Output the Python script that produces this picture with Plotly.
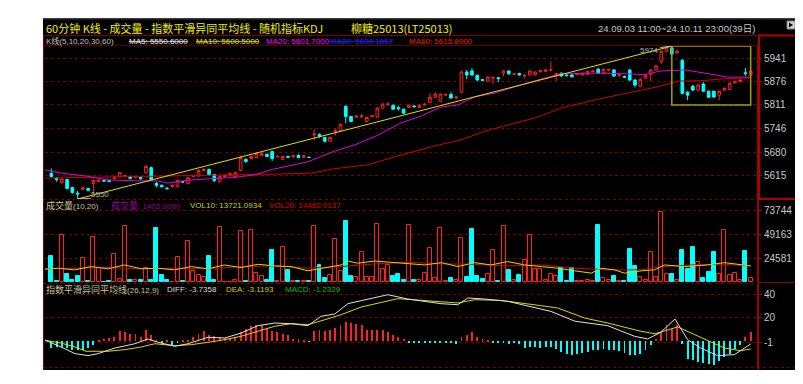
import plotly.graph_objects as go

W, H = 803, 384

# ---------------- data ----------------
opens = [5621,5608,5595,5604,5582,5566,5577,5579,5593,5599,
         5601,5601,5607,5612,5613,5612,5610,5610,5623,5637,
         5593,5588,5580,5584,5584,5598,5593,5612,5614,5629,
         5632,5618,5598,5612,5616,5612,5629,5660,5662,5665,
         5671,5674,5682,5667,5660,5668,5667,5671,5666,5666,
         5728,5729,5721,5710,5737,5740,5807,5779,5777,5779,
         5765,5778,5777,5802,5812,5810,5803,5799,5804,5808,
         5804,5811,5818,5832,5821,5838,5840,5830,5846,5902,
         5905,5893,5881,5877,5885,5886,5899,5905,5896,5898,
         5892,5894,5894,5903,5904,5907,5895,5899,5894,5894,
         5895,5894,5896,5903,5910,5899,5907,5908,5893,5890,
         5908,5880,5863,5885,5896,5908,5930,5960,5969,5955,
         5935,5846,5863,5852,5869,5849,5849,5838,5852,5854,
         5872,5876,5900,5894]
highs = [5635,5610,5608,5606,5583,5572,5584,5582,5604,5604,
         5604,5602,5614,5625,5617,5614,5614,5611,5645,5640,
         5597,5590,5583,5590,5604,5600,5611,5617,5632,5635,
         5634,5619,5614,5618,5623,5626,5670,5662,5671,5679,
         5680,5676,5684,5671,5670,5670,5672,5674,5672,5667,
         5743,5732,5722,5723,5745,5760,5810,5780,5782,5785,
         5778,5783,5805,5816,5819,5812,5808,5801,5812,5810,
         5812,5815,5843,5846,5843,5842,5846,5835,5906,5908,
         5913,5895,5883,5890,5889,5888,5907,5907,5898,5900,
         5896,5907,5904,5908,5910,5932,5899,5901,5896,5896,
         5899,5901,5906,5907,5913,5912,5911,5910,5897,5892,
         5910,5882,5885,5895,5910,5921,5962,5972,5974,5963,
         5937,5849,5866,5868,5874,5851,5850,5851,5859,5873,
         5878,5882,5913,5907]
lows = [5610,5598,5593,5577,5565,5550,5575,5571,5565,5597,
        5597,5596,5604,5610,5612,5604,5608,5601,5620,5602,
        5582,5582,5575,5582,5582,5595,5590,5610,5612,5627,
        5615,5597,5596,5610,5614,5610,5627,5650,5660,5663,
        5669,5666,5655,5665,5658,5664,5665,5663,5664,5664,
        5713,5720,5707,5708,5725,5738,5760,5763,5775,5774,
        5763,5776,5775,5800,5808,5797,5795,5786,5802,5804,
        5802,5809,5816,5830,5819,5836,5828,5828,5843,5882,
        5891,5877,5877,5875,5869,5874,5891,5895,5894,5892,
        5885,5892,5892,5901,5902,5904,5877,5889,5890,5887,
        5893,5892,5894,5901,5897,5897,5905,5889,5888,5885,
        5877,5860,5860,5883,5877,5906,5925,5958,5950,5952,
        5840,5824,5849,5850,5847,5830,5830,5824,5850,5852,
        5870,5874,5891,5892]
closes = [5612,5604,5605,5579,5568,5564,5581,5574,5601,5602,
          5600,5599,5611,5623,5615,5607,5612,5607,5640,5604,
          5588,5584,5579,5588,5601,5597,5609,5615,5629,5632,
          5618,5601,5612,5616,5621,5623,5665,5654,5668,5676,
          5676,5668,5662,5668,5668,5666,5670,5665,5670,5665,
          5730,5724,5710,5721,5739,5757,5779,5765,5780,5780,
          5776,5781,5802,5813,5813,5799,5801,5788,5810,5806,
          5810,5813,5832,5841,5841,5840,5830,5833,5902,5894,
          5894,5880,5879,5888,5887,5884,5905,5897,5897,5894,
          5893,5905,5902,5906,5908,5908,5897,5891,5892,5889,
          5897,5899,5904,5905,5899,5910,5909,5891,5894,5888,
          5880,5866,5882,5893,5908,5919,5960,5969,5952,5960,
          5843,5838,5852,5866,5849,5832,5833,5849,5857,5871,
          5876,5880,5898,5905]
volumes = [27300,1300,49200,8200,2400,6100,24600,700,46800,15000,
           500,1300,29000,3100,57700,2400,2000,2400,14300,2400,
           56000,6800,2400,500,26300,1300,42300,11600,6800,4800,
           27300,2400,57000,500,500,2000,52900,1300,54300,9200,
           5800,2400,33100,800,36500,12000,1300,1300,1000,1500,
           57700,17800,4100,7500,45000,11600,63800,6500,4800,31400,
           5100,4800,60400,13300,17800,5800,8200,2400,59400,2400,
           2400,9200,35500,4100,56000,1300,4100,2400,45700,4800,
           54600,6500,3400,7800,33100,700,57700,12000,2400,6800,
           22900,48500,13700,13700,2400,8200,6500,15000,1300,14300,
           700,700,2400,700,59700,4100,2400,6500,700,700,
           33800,17100,4800,2400,31400,4800,72400,7800,8200,2400,
           33100,13700,36500,21200,4100,10200,31400,8200,54300,6800,
           9200,2400,32000,4100]
macd_bar = [-5.7,-5,-5,-6,-7.5,-7.5,-7.5,-6,-3,1,
            2,3,4,8.6,8,6.5,6.5,4,9.5,5,
            1,-1,0.5,-3,-1.5,1,1,3.7,6.5,8.6,
            5,4.5,3.7,2.8,2.8,3.7,8,10.8,13,14.3,
            13.7,10.8,8.6,8,6.5,5,2.3,1.7,0.8,-0.5,
            8.6,10,8.6,9.4,11.4,14.3,16.6,16,15,13.7,
            9.4,9.4,10,10,8,5.7,3.7,2.3,-1.5,-1.5,
            -1,-1.5,-1,-1,-0.8,-1.5,-1,-2.5,3.7,5.7,
            8,3.7,1.7,0.8,-1,-1.5,-1,-2,-1.5,-2.5,
            -5.7,-4.9,-4.9,-5.7,-4.9,-4.9,-6.3,-9.1,-10.6,-11.4,
            -10.6,-9.7,-9.1,-7.7,-7.7,-6.3,-7.7,-7.7,-8.6,-9.7,
            -11.4,-11.4,-10.6,-7.7,-3.4,2.3,8,13.7,10.8,13.7,
            -2,-15.4,-16.3,-17.7,-18.3,-19.1,-20,-17.1,-13.4,-10.6,
            -6.3,-3.4,3.7,8]

ma20_x = [-1.2,1.8,6.4,10.8,17.1,20.3,22.2,25.4,29.8,34.9,38.7,42,48.8,53.9,57.7,62.1,
          66.5,70.3,74.1,77.3,80.5,84.4,88.1,90.6,92.5,96.9,103.4,109.6,112.9,115.9,120.5,
          124.3,128.6,133]
ma20_v = [5631,5622,5614,5603,5600,5600,5594,5601,5606,5610,5617,5632,5653,5683,5700,5727,
          5761,5780,5805,5811,5833,5844,5861,5873,5880,5897,5899,5897,5895,5905,5908,
          5899,5888,5888]
ma60_x = [-1.2,10.8,29.8,43.1,49.4,53.9,60.2,66.5,72.9,77.9,82.4,86.8,90.6,92.5,96.9,
          103.4,109.6,115.9,119.1,123.5,128.6,133]
ma60_v = [5608,5611,5614,5619,5622,5634,5645,5672,5697,5714,5738,5755,5770,5777,5802,
          5825,5844,5863,5877,5878,5884,5886]

vol20_x = [-1.2,4.4,10.8,17.1,23.4,29.8,36.1,42.5,48.8,55.1,61.5,67.8,74.2,80.5,86.8,93.2,
           99.5,105.8,112.2,116,121.7,128,133]
vol20_v = [13700,14300,15000,13700,14300,13700,16000,16700,14300,16000,18800,20500,18800,
           18400,16700,17700,14300,12600,12600,16000,17700,18400,16700]
vol10_x = [-1.2,1.3,4.4,7.6,10.8,13.9,17.1,20.3,23.4,26.6,29.8,32.9,36.1,39.3,42.5,45.6,
           48.8,51.9,55.1,56.4,58.3,61.5,64.6,67.8,71,74.2,77.3,80.5,83.6,86.8,90,93.2,96.3,
           99.5,102.7,104.5,107.1,109,112.2,114.7,116.6,120.4,124.8,128,131.2,133]
vol10_v = [13300,14300,12600,16000,13700,17700,13700,14300,12600,16000,13700,17700,15000,
           18400,16700,16000,11600,14300,17700,21800,19500,21800,20500,19500,17700,20100,
           16000,20100,17700,21200,17700,16000,14300,11600,9200,14300,12600,9200,11600,
           12600,17700,16000,17700,20100,17700,16700]

dea_x = [-1.2,1.8,4.5,6.6,10.8,14,17.1,19.7,23.5,26.6,29.8,33,36.1,39.3,42.5,45.6,48.8,52,
         55.1,58.9,62.7,65.9,67.8,77.3,80.5,85.5,93.1,96.3,101.4,105.8,112.1,114.8,119.1,
         122.9,128,131.1,133]
dea_v = [0.9,-1.5,-4.9,-8.6,-8.6,-7.2,-4.9,-2.1,-3.8,-2.9,-0.9,1.4,4.3,8.6,12.9,15.1,14.2,
         18.5,22.8,29.4,33.5,36.6,36.0,32.9,35.7,35.1,30.6,28.6,20,15.7,8.6,6.5,12.3,4.8,
         -5.8,-8.1,-6.6]
diff_x = [-1.2,1.3,4.5,7,8.9,12.1,15.9,18.4,20.3,23.5,26,29.8,33,36.1,39.3,42.5,45.6,48.8,
          51.3,53.9,56.4,60.2,64,67.8,74.1,77.3,79.2,82.4,86.8,95,99.6,105.8,110.9,113.4,
          115.9,118.6,121,123.5,126.7,129.9,133]
diff_v = [0.9,-3.8,-10.6,-12.3,-10.6,-5.8,-2.1,2.0,-0.9,-4.3,-2.1,3.4,2.8,7.1,13.4,15.7,
          15.1,13.4,21.5,23.4,32.3,36.3,40,36.3,32.3,31.4,37.2,36.3,34.3,25.7,17.2,13.4,
          4.3,2.0,7.7,19.1,1.4,-5.8,-12.3,-11.5,-2.3]

trend_x = [5, 118]
trend_y = [5550, 5974]
box_x = [118, 133]
box_y = [5811, 5974]

price_ticks = [5615, 5680, 5746, 5811, 5876, 5941]
vol_ticks = [24581, 49163, 73744]
macd_ticks = [-1, 20, 40]

# ---------------- styling ----------------
RED = '#ff2020'
CYAN = '#00ffff'
GRID = '#7a0000'
AX = '#a00000'
SANS = 'Liberation Sans, Arial, Noto Sans CJK SC'
CJK = 'Noto Sans CJK SC, Liberation Sans'


def X(p):
    return p / W


def Y(p):
    return 1 - p / H


def cjk(t, size=9):
    return f'<span style="font-size:{size}px;font-family:Noto Sans CJK SC">{t}</span>'


idx = list(range(len(opens)))
up = [c >= o for o, c in zip(opens, closes)]

fig = go.Figure()

fig.add_trace(go.Candlestick(
    x=idx, open=opens, high=highs, low=lows, close=closes,
    increasing=dict(line=dict(color=RED, width=1), fillcolor='#000000'),
    decreasing=dict(line=dict(color=CYAN, width=1), fillcolor=CYAN),
    whiskerwidth=0, xaxis='x', yaxis='y', hoverinfo='skip'))
fig.add_trace(go.Scatter(x=ma60_x, y=ma60_v, mode='lines', line=dict(color='#d00000', width=1),
                         xaxis='x', yaxis='y', hoverinfo='skip'))
fig.add_trace(go.Scatter(x=ma20_x, y=ma20_v, mode='lines', line=dict(color='#e000e0', width=1),
                         xaxis='x', yaxis='y', hoverinfo='skip'))
fig.add_trace(go.Scatter(x=trend_x, y=trend_y, mode='lines', line=dict(color='#e0e000', width=1),
                         xaxis='x', yaxis='y', hoverinfo='skip'))

fig.add_trace(go.Bar(
    x=idx, y=volumes, width=0.76,
    marker=dict(color=['#000000' if u else CYAN for u in up],
                line=dict(color=[RED if u else CYAN for u in up], width=1)),
    xaxis='x2', yaxis='y2', hoverinfo='skip'))
fig.add_trace(go.Scatter(x=vol20_x, y=vol20_v, mode='lines', line=dict(color='#e00000', width=1),
                         xaxis='x2', yaxis='y2', hoverinfo='skip'))
fig.add_trace(go.Scatter(x=vol10_x, y=vol10_v, mode='lines', line=dict(color='#d8d800', width=1),
                         xaxis='x2', yaxis='y2', hoverinfo='skip'))

fig.add_trace(go.Bar(
    x=idx, y=macd_bar, width=0.17,
    marker=dict(color=[RED if v >= 0 else CYAN for v in macd_bar], line=dict(width=0)),
    xaxis='x3', yaxis='y3', hoverinfo='skip'))
fig.add_trace(go.Scatter(x=dea_x, y=dea_v, mode='lines', line=dict(color='#d8d800', width=1),
                         xaxis='x3', yaxis='y3', hoverinfo='skip'))
fig.add_trace(go.Scatter(x=diff_x, y=diff_v, mode='lines', line=dict(color='#e0e0e0', width=1),
                         xaxis='x3', yaxis='y3', hoverinfo='skip'))

xcommon = dict(range=[-1.2, 134.2], domain=[X(37), X(749)], visible=False, fixedrange=True)
ycommon = dict(side='right', showgrid=True, gridcolor=GRID, griddash='3px,3px', gridwidth=1,
               zeroline=False, showline=True, linecolor=AX, linewidth=1, ticks='outside',
               ticklen=4, tickcolor=AX, fixedrange=True,
               tickfont=dict(family=SANS, size=10, color='#c8c8c8'))

fig.update_layout(
    width=W, height=H, margin=dict(l=0, r=0, t=0, b=0),
    paper_bgcolor='white', plot_bgcolor='rgba(0,0,0,0)', showlegend=False,
    boxgap=0.28, bargap=0,
    xaxis=dict(**xcommon, anchor='y', rangeslider=dict(visible=False)),
    xaxis2=dict(**xcommon, anchor='y2'),
    xaxis3=dict(**xcommon, anchor='y3'),
    yaxis=dict(**ycommon, anchor='x', domain=[Y(191), Y(38)], range=[5550, 5974.3],
               tickmode='array', tickvals=price_ticks, ticktext=[str(v) for v in price_ticks]),
    yaxis2=dict(**ycommon, anchor='x2', domain=[Y(274), Y(192)], range=[0, 85150],
                tickmode='array', tickvals=vol_ticks, ticktext=[str(v) for v in vol_ticks]),
    yaxis3=dict(**ycommon, anchor='x3', domain=[Y(359), Y(276)], range=[-22.1, 49.2],
                tickmode='array', tickvals=macd_ticks, ticktext=[str(v) for v in macd_ticks]),
)

shapes = []
# black panel
shapes.append(dict(type='rect', xref='paper', yref='paper', x0=X(35), x1=X(791), y0=Y(362), y1=Y(10),
                   fillcolor='#000000', line=dict(width=0), layer='below'))
shapes.append(dict(type='rect', xref='paper', yref='paper', x0=X(35), x1=X(791), y0=Y(11.5), y1=Y(10),
                   fillcolor='#3c3c3c', line=dict(width=0), layer='below'))


def hline(y, x0, x1, color, dash='solid', width=1):
    shapes.append(dict(type='line', xref='paper', yref='paper', x0=X(x0), x1=X(x1), y0=Y(y), y1=Y(y),
                       line=dict(color=color, width=width, dash=dash)))


def vline(x, y0, y1, color, width=1):
    shapes.append(dict(type='line', xref='paper', yref='paper', x0=X(x), x1=X(x), y0=Y(y0), y1=Y(y1),
                       line=dict(color=color, width=width)))


hline(27.5, 35, 791, '#800000')
hline(37.5, 35, 750, '#600000')
hline(191.5, 35, 750, GRID, '3px,3px')
hline(275.5, 35, 750, GRID, '3px,3px')
hline(274.5, 750, 790, '#900000')
hline(359.5, 35, 790, GRID, '3px,3px')
vline(35.5, 27, 362, '#800000')
vline(750.5, 27, 362, AX)
vline(789.5, 191, 362, '#500000')
shapes.append(dict(type='rect', xref='paper', yref='paper', x0=X(751), x1=X(789), y0=Y(191), y1=Y(27.5),
                   line=dict(color='#b00000', width=2)))
# top-right icon & side tab
shapes.append(dict(type='rect', xref='paper', yref='paper', x0=X(779), x1=X(787), y0=Y(21), y1=Y(13),
                   fillcolor='#d0d0d0', line=dict(color='#808080', width=1)))
shapes.append(dict(type='path', xref='paper', yref='paper',
                   path=f'M {X(781)},{Y(14.5)} L {X(785)},{Y(17)} L {X(781)},{Y(19.5)} Z',
                   fillcolor='#000000', line=dict(width=0)))
shapes.append(dict(type='rect', xref='paper', yref='paper', x0=X(791), x1=X(794), y0=Y(247), y1=Y(234),
                   fillcolor='#f3dccb', line=dict(width=0)))
# user drawn box + price markers (data coordinates)
shapes.append(dict(type='rect', xref='x', yref='y', x0=box_x[0], x1=box_x[1], y0=box_y[0], y1=box_y[1],
                   line=dict(color='#a0a000', width=1.5)))
shapes.append(dict(type='line', xref='x', yref='y', x0=trend_x[0], x1=trend_x[0] + 2.5,
                   y0=trend_y[0] + 1, y1=trend_y[0] + 1, line=dict(color='#c0c0c0', width=1)))
shapes.append(dict(type='line', xref='x', yref='y', x0=trend_x[1] - 2.2, x1=trend_x[1],
                   y0=trend_y[1] - 4, y1=trend_y[1], line=dict(color='#c0c0c0', width=1)))
fig.update_layout(shapes=shapes)


def label(text, x, y, color, size, family=SANS, xanchor='left'):
    fig.add_annotation(text=text, x=X(x), y=Y(y), xref='paper', yref='paper', showarrow=False,
                       xanchor=xanchor, yanchor='middle', borderpad=0,
                       font=dict(color=color, size=size, family=family))


label('60分钟 K线 - 成交量 - 指数平滑异同平均线 - 随机指标KDJ', 37, 19.5, '#f0f000', 11, CJK)
label('柳糖25013(LT25013)', 342, 19.5, '#f0f000', 11, CJK)
label('24.09.03 11:00~24.10.11 23:00(39' + cjk('日', 9.5) + ')', 748, 19.5, '#c8c8c8', 9.5, SANS, 'right')

label('K线(5,10,20,30,60)', 37, 33, '#c0c0c0', 8)
label('<s>MA5: 5550.6000</s>', 120, 33, '#e8e8e8', 8)
label('<s>MA10: 5600.5000</s>', 187, 33, '#e0e000', 8)
label('MA20: 5601.7000', 257, 33, '#ff00ff', 8)
label('<s>MA30: 5600.1667</s>', 321, 33, '#2020ff', 8)
label('MA60: 5615.8000', 400, 33, '#ff1010', 8)

label(cjk('成交量') + '(10,20)', 37, 197, '#c8c896', 8)
label(cjk('成交量') + ': 1402.0000', 102, 197, '#9a009a', 8)
label('VOL10: 13721.0934', 181, 197, '#d0d000', 8)
label('VOL20: 14462.0137', 260, 197, '#e00000', 8)

label(cjk('指数平滑异同平均线') + '(26,12,9)', 37, 281, '#c8c896', 8)
label('DIFF: -3.7358', 158, 281, '#d8d8d8', 8)
label('DEA: -3.1193', 217, 281, '#d0d000', 8)
label('MACD: -1.2329', 276, 281, '#00c000', 8)

fig.add_annotation(text=str(trend_y[0]), x=trend_x[0] + 2.2, y=5562, xref='x', yref='y', showarrow=False,
                   xanchor='left', yanchor='middle', font=dict(color='#b0b0b0', size=8, family=SANS))
fig.add_annotation(text=str(trend_y[1]), x=trend_x[1] - 2.2, y=5962, xref='x', yref='y', showarrow=False,
                   xanchor='right', yanchor='middle', font=dict(color='#b0b0b0', size=8, family=SANS))

fig.write_html("out.html", config={'displayModeBar': False})
